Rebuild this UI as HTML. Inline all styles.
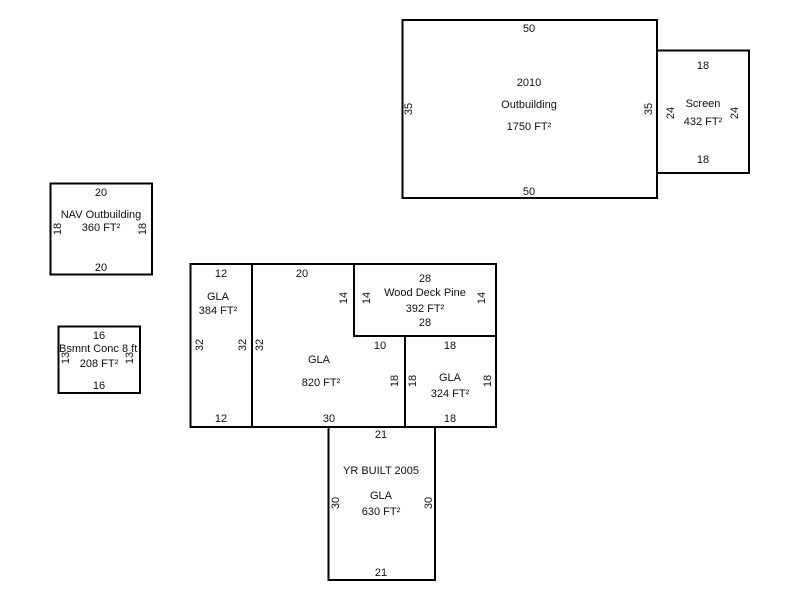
<!DOCTYPE html>
<html><head><meta charset="utf-8"><style>
html,body{margin:0;padding:0;background:#fff;}
svg{display:block;}
text{font-family:"Liberation Sans",Arial,sans-serif;font-size:11px;fill:#111;text-anchor:middle;}
</style></head><body>
<svg width="800" height="600" viewBox="0 0 800 600">
<defs><clipPath id="bc"><rect x="58" y="326" width="82" height="67"/></clipPath></defs>
<g fill="none" stroke="#000" stroke-width="2">
<rect x="402.5" y="20" width="254.5" height="178"/>
<rect x="657" y="50.5" width="92" height="122.5"/>
<rect x="50.5" y="183.5" width="101.5" height="91"/>
<rect x="58.5" y="326.5" width="81.5" height="66.5"/>
<rect x="190.5" y="264" width="305.5" height="163"/>
<line x1="252" y1="264" x2="252" y2="427"/>
<polyline points="354,264 354,336 496,336"/>
<line x1="405" y1="336" x2="405" y2="427"/>
<rect x="328.5" y="427" width="106.5" height="153"/>
</g>
<text x="529" y="32">50</text>
<text x="529" y="195">50</text>
<text x="529" y="86">2010</text>
<text x="529" y="108">Outbuilding</text>
<text x="529" y="130">1750 FT²</text>
<text transform="translate(412,109) rotate(-90)">35</text>
<text transform="translate(652,109) rotate(-90)">35</text>
<text x="703" y="69">18</text>
<text x="703" y="163">18</text>
<text x="703" y="107">Screen</text>
<text x="703" y="125">432 FT²</text>
<text transform="translate(674,113) rotate(-90)">24</text>
<text transform="translate(738,113) rotate(-90)">24</text>
<text x="101" y="196">20</text>
<text x="101" y="271">20</text>
<text x="101" y="218">NAV Outbuilding</text>
<text x="101" y="231">360 FT²</text>
<text transform="translate(61,229) rotate(-90)">18</text>
<text transform="translate(146,229) rotate(-90)">18</text>
<text x="99" y="339">16</text>
<text x="99" y="389">16</text>
<text transform="translate(69,358) rotate(-90)">13</text>
<text transform="translate(133,358) rotate(-90)">13</text>
<text x="59" y="352" clip-path="url(#bc)" style="text-anchor:start">Bsmnt Conc 8 ft</text>
<text x="99" y="367">208 FT²</text>
<text x="221" y="277">12</text>
<text x="221" y="422">12</text>
<text x="218" y="300">GLA</text>
<text x="218" y="314">384 FT²</text>
<text transform="translate(203,345) rotate(-90)">32</text>
<text transform="translate(246,345) rotate(-90)">32</text>
<text transform="translate(263,345) rotate(-90)">32</text>
<text x="302" y="277">20</text>
<text x="329" y="422">30</text>
<text x="380" y="349">10</text>
<text x="319" y="363">GLA</text>
<text x="321" y="386">820 FT²</text>
<text transform="translate(347,298) rotate(-90)">14</text>
<text transform="translate(398,381) rotate(-90)">18</text>
<text x="425" y="282">28</text>
<text x="425" y="296">Wood Deck Pine</text>
<text x="425" y="312">392 FT²</text>
<text x="425" y="326">28</text>
<text transform="translate(370,298) rotate(-90)">14</text>
<text transform="translate(485,298) rotate(-90)">14</text>
<text x="450" y="349">18</text>
<text x="450" y="422">18</text>
<text x="450" y="381">GLA</text>
<text x="450" y="397">324 FT²</text>
<text transform="translate(416,381) rotate(-90)">18</text>
<text transform="translate(491,381) rotate(-90)">18</text>
<text x="381" y="438">21</text>
<text x="381" y="576">21</text>
<text x="381" y="474">YR BUILT 2005</text>
<text x="381" y="499">GLA</text>
<text x="381" y="515">630 FT²</text>
<text transform="translate(339,503) rotate(-90)">30</text>
<text transform="translate(432,503) rotate(-90)">30</text>
</svg>
</body></html>
